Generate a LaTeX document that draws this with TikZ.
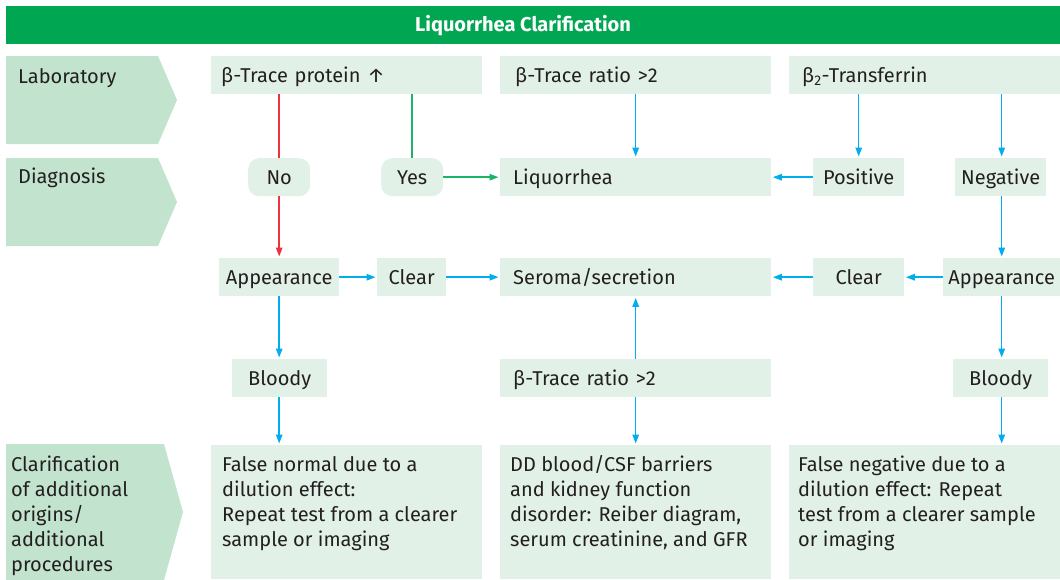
\documentclass[tikz,border=0pt]{standalone}
\usepackage{fontspec}
\setmainfont{Fira Sans}
\usetikzlibrary{arrows.meta}
\definecolor{hdr}{HTML}{00A651}
\definecolor{pent}{HTML}{C2E3CD}
\definecolor{boxc}{HTML}{E2F1E7}
\definecolor{cyanline}{HTML}{00AEEF}
\definecolor{redline}{HTML}{EE3340}
\definecolor{greenline}{HTML}{1DB469}
\definecolor{txt}{HTML}{231F20}
\begin{document}
\begin{tikzpicture}[x=1pt,y=-1pt,
  every node/.style={font=\fontsize{20}{25}\selectfont, text=txt},
  box/.style={fill=boxc, inner ysep=0pt, anchor=north west, minimum height=38pt, text height=17pt, text depth=3pt},
  cbox/.style={box, inner xsep=0pt, minimum width=#1},
  lbox/.style={box, align=left},
  rbox/.style={cbox=#1, rounded corners=11pt},
  bigbox/.style={fill=boxc, inner sep=0pt, anchor=north west, minimum height=134pt, minimum width=271pt},
  pentlabel/.style={anchor=base west, inner sep=0pt},
  bodytext/.style={anchor=base west, inner sep=0pt},
  arr/.style={draw=cyanline, line width=1.5pt, -{Triangle[length=9pt,width=6.5pt]}, shorten >=1.5pt},
  redarr/.style={draw=redline, line width=1.5pt, -{Triangle[length=9pt,width=6.5pt]}, shorten >=1.5pt},
  grnarr/.style={draw=greenline, line width=1.5pt, -{Triangle[length=9pt,width=6.5pt]}, shorten >=1.5pt},
  redln/.style={draw=redline, line width=1.5pt},
  grnln/.style={draw=greenline, line width=1.5pt}
]
\useasboundingbox (0,0) rectangle (1060,579);

% header
\node[fill=hdr, inner sep=0pt, anchor=north west, minimum width=1054pt, minimum height=38pt] (header) at (6,6) {};
\node[text=white, font=\fontsize{20}{22}\selectfont\bfseries, inner sep=0pt, anchor=base] (title) at (523,31) {Liquorrhea Clarification};

% left pentagon labels
\fill[pent] (6,56) -- (158,56) -- (177,100) -- (158,144) -- (6,144) -- cycle;
\fill[pent] (6,158) -- (158,158) -- (177,202) -- (158,246) -- (6,246) -- cycle;
\fill[pent] (6,444) -- (164,444) -- (183,512) -- (164,580) -- (6,580) -- cycle;
\node[pentlabel] (lab) at (18,83) {Laboratory};
\node[pentlabel] (diag) at (18,183) {Diagnosis};
\node[pentlabel] (clar) at (11,471) {\parbox[t]{160pt}{\raggedright Clarification\\ of additional\\ origins/\\ additional\\ procedures}};

% laboratory row
\node[lbox, inner xsep=10pt, text width=251pt] (btp) at (211,56) {β-Trace protein ↑};
\node[lbox, inner xsep=15pt, text width=241pt] (btr) at (500,56) {β-Trace ratio >2};
\node[lbox, inner xsep=13pt, text width=245pt] (btf) at (789,56) {β\textsubscript{2}-Transferrin};

% diagnosis row
\node[rbox=62pt] (no) at (248,158) {No};
\node[rbox=62pt] (yes) at (381,158) {Yes};
\node[lbox, inner xsep=13pt, text width=245pt] (liq) at (500,158) {Liquorrhea};
\node[cbox=91pt] (pos) at (813,158) {Positive};
\node[cbox=91pt] (neg) at (955,158) {Negative};

% appearance row
\node[cbox=120pt] (appl) at (219,258) {Appearance};
\node[cbox=69pt] (clearl) at (377,258) {Clear};
\node[lbox, inner xsep=13pt, text width=245pt] (ser) at (500,258) {Seroma/secretion};
\node[cbox=91pt] (clearr) at (813,258) {Clear};
\node[cbox=117pt] (appr) at (943,258) {Appearance};

% bloody row
\node[cbox=95pt] (bloodl) at (232,359) {Bloody};
\node[lbox, inner xsep=13pt, text width=245pt] (btr2) at (500,359) {β-Trace ratio >2};
\node[cbox=95pt] (bloodr) at (953,359) {Bloody};

% bottom row
\node[bigbox] (fn) at (211,445) {};
\node[bigbox] (dd) at (500,445) {};
\node[bigbox] (fneg) at (789,445) {};
\node[bodytext] (fntext) at (222,471) {\parbox[t]{255pt}{\raggedright False normal due to a\\ dilution effect:\\ Repeat test from a clearer\\ sample or imaging}};
\node[bodytext] (ddtext) at (510,471) {\parbox[t]{255pt}{\raggedright DD blood/CSF barriers\\ and kidney function\\ disorder: Reiber diagram,\\ serum creatinine, and GFR}};
\node[bodytext] (fnegtext) at (798,471) {\parbox[t]{255pt}{\raggedright False negative due to a\\ dilution effect: Repeat\\ test from a clearer sample\\ or imaging}};

% connectors
\draw[redln] (no.north |- btp.south) -- (no.north);
\draw[redarr] (no.south) -- (appl.north);
\draw[grnln] (yes.north |- btp.south) -- (yes.north);
\draw[grnarr] (yes.east) -- (liq.west);
\draw[arr] (btr.south) -- (liq.north);
\draw[arr] (pos.north |- btf.south) -- (pos.north);
\draw[arr] (appr.north |- btf.south) -- (appr.north |- neg.north);
\draw[arr] (pos.west) -- (liq.east);
\draw[arr] (appr.north |- neg.south) -- (appr.north);
\draw[arr] (appl.east) -- (clearl.west);
\draw[arr] (clearl.east) -- (ser.west);
\draw[arr] (appr.west) -- (clearr.east);
\draw[arr] (clearr.west) -- (ser.east);
\draw[arr] (appl.south) -- (appl.south |- bloodl.north);
\draw[arr] (appl.south |- bloodl.south) -- (appl.south |- fn.north);
\draw[arr] (btr2.north) -- (ser.south);
\draw[arr] (btr2.south) -- (dd.north);
\draw[arr] (appr.south) -- (appr.south |- bloodr.north);
\draw[arr] (appr.south |- bloodr.south) -- (appr.south |- fneg.north);
\end{tikzpicture}
\end{document}
